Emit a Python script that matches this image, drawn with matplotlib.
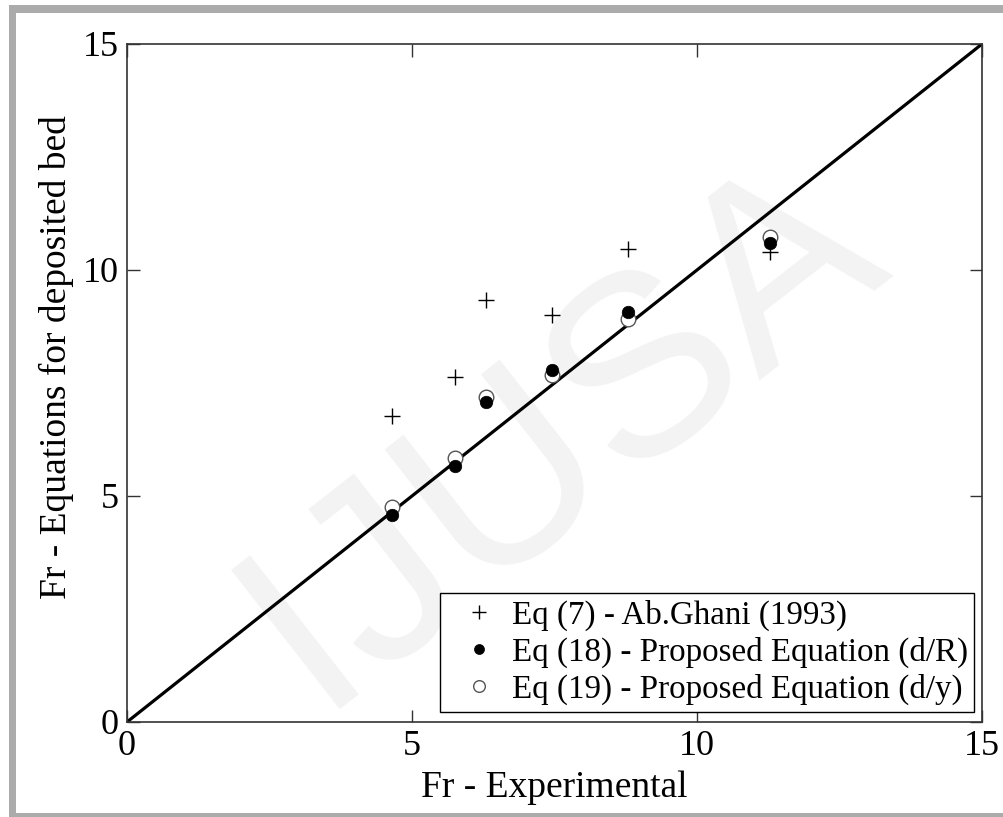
import matplotlib
matplotlib.use("Agg")
import matplotlib.pyplot as plt
from matplotlib.patches import Rectangle

plt.rcParams['font.family'] = ['Liberation Serif', 'DejaVu Serif']

# Data
fr_exp = [4.65, 5.75, 6.29, 7.46, 8.79, 11.28]
eq7_ghani = [6.78, 7.64, 9.34, 9.00, 10.46, 10.40]
eq18_dR = [4.58, 5.66, 7.09, 7.79, 9.08, 10.59]
eq19_dy = [4.76, 5.83, 7.20, 7.68, 8.91, 10.74]
ticks = [0, 5, 10, 15]
line_xy = [0, 15]

W, H = 1004, 817
fig = plt.figure(figsize=(W / 100, H / 100), dpi=100)
fig.patch.set_facecolor('white')

# gray page frame
gray = '#ababab'
fig.add_artist(Rectangle((9 / W, 0), 7 / W, (H - 5) / H, transform=fig.transFigure,
                         facecolor=gray, edgecolor='none', zorder=0))
fig.add_artist(Rectangle((9 / W, (H - 13) / H), (W - 9) / W, 8 / H, transform=fig.transFigure,
                         facecolor=gray, edgecolor='none', zorder=0))
fig.add_artist(Rectangle((9 / W, 0), (W - 9) / W, 4 / H, transform=fig.transFigure,
                         facecolor=gray, edgecolor='none', zorder=0))

# faint watermark
fig.text(0.56, 0.47, 'IJUSA', fontsize=185, color='#f3f3f3', rotation=38,
         ha='center', va='center', family='Liberation Sans', zorder=0.5,
         rotation_mode='anchor')

ax = fig.add_axes([127 / W, (H - 722) / H, 855 / W, 678 / H])
ax.set_facecolor('none')
ax.set_zorder(1)

ax.plot(line_xy, line_xy, color='black', lw=2.3, zorder=2)
ax.plot(fr_exp, eq7_ghani, linestyle='none', marker='+', ms=12, mew=1.0,
        color='black', label='Eq (7) - Ab.Ghani (1993)', zorder=3)
ax.plot(fr_exp, eq19_dy, linestyle='none', marker='o', ms=10.5, mew=1.0,
        mfc='white', mec='#555555', label='Eq (19) - Proposed Equation (d/y)', zorder=3)
ax.plot(fr_exp, eq18_dR, linestyle='none', marker='o', ms=9, mew=0.5,
        mfc='black', mec='black', label='Eq (18) - Proposed Equation (d/R)', zorder=4)

ax.set_xlim(0, 15)
ax.set_ylim(0, 15)
ax.set_xticks(ticks)
ax.set_yticks(ticks)
ax.tick_params(direction='in', length=9, width=1, top=True, right=True,
               labelsize=26, pad=6, color='#333333')
for s in ax.spines.values():
    s.set_linewidth(1.2)
    s.set_color('#333333')

ax.set_xlabel('Fr - Experimental', fontsize=27, labelpad=5)
ax.set_ylabel('Fr - Equations for deposited bed', fontsize=27, labelpad=2)
ax.yaxis.set_label_coords(-0.062, 0.538)

handles, labels = ax.get_legend_handles_labels()
order = [0, 2, 1]
leg = ax.legend([handles[i] for i in order], [labels[i] for i in order],
                loc='lower right', fontsize=23.8, frameon=True, fancybox=False,
                edgecolor='black', handlelength=1.9, handletextpad=0.05,
                labelspacing=0.18, borderpad=0.2, borderaxespad=0.0,
                bbox_to_anchor=(0.991, 0.015), markerscale=0.8)
leg.get_frame().set_linewidth(1.0)
leg.get_frame().set_facecolor('white')
leg.get_frame().set_alpha(1)

fig.savefig('out.png', dpi=100)
